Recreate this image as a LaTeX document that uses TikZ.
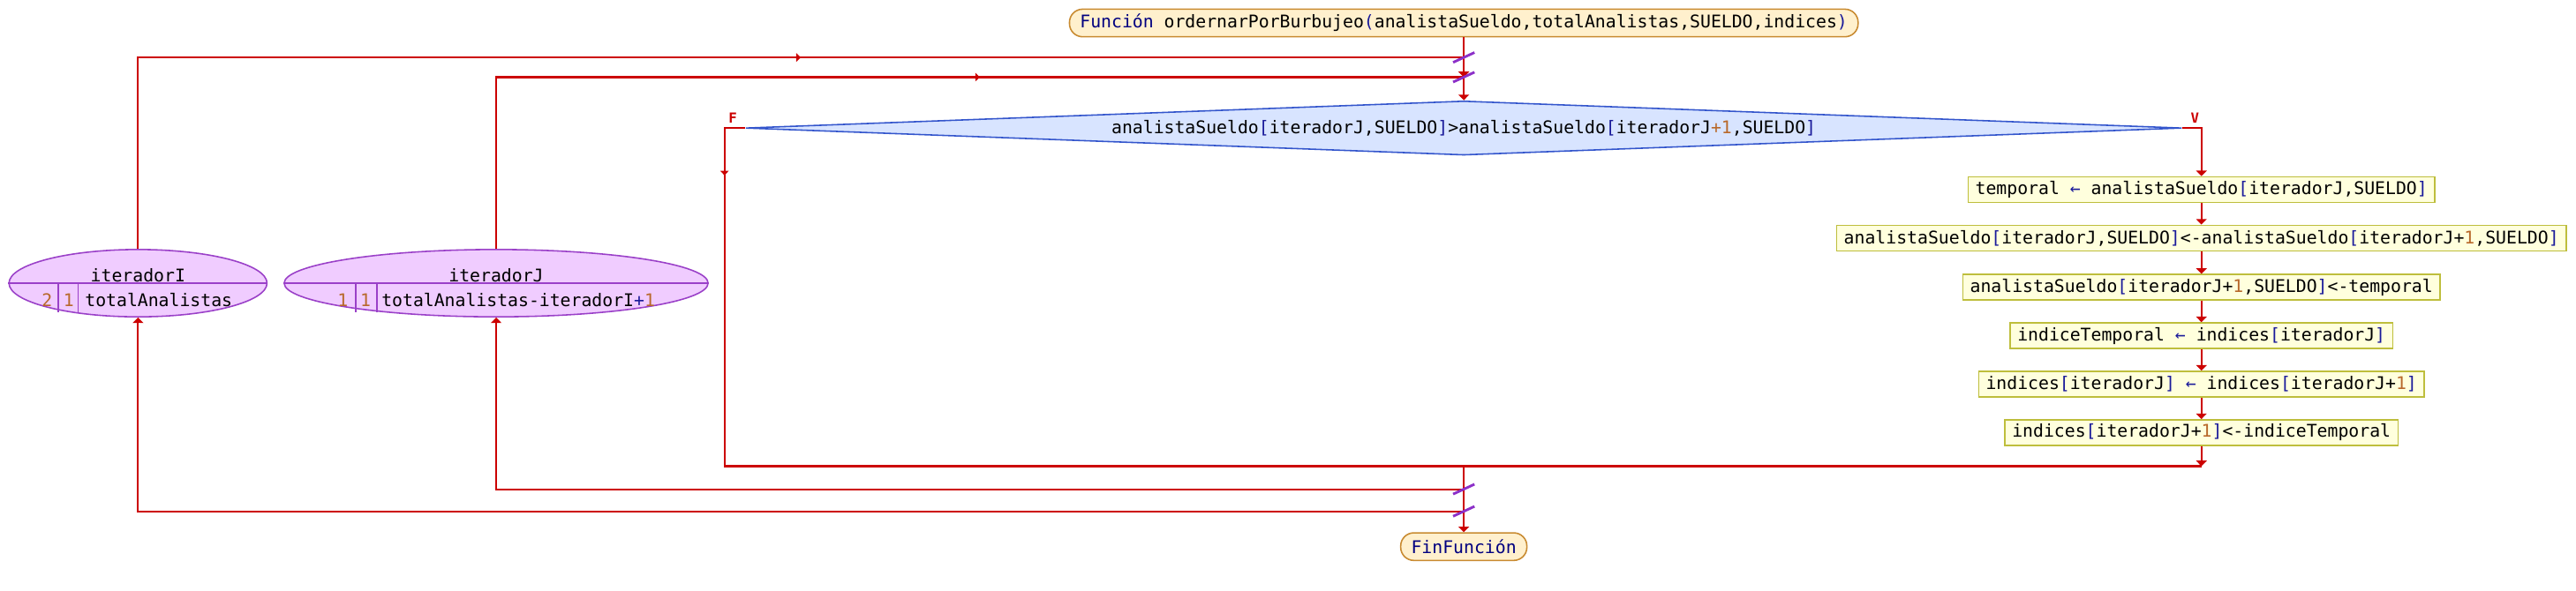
\documentclass[tikz,border=0pt]{standalone}
\usepackage{fontspec}
\setmonofont{DejaVu Sans Mono}
\definecolor{psRed}{RGB}{204, 0, 0}
\definecolor{psSlash}{RGB}{140, 48, 200}
\definecolor{psTerm}{RGB}{255, 240, 205}
\definecolor{psTermDraw}{RGB}{200, 138, 48}
\definecolor{psAssign}{RGB}{255, 255, 221}
\definecolor{psAssignDraw}{RGB}{190, 190, 60}
\definecolor{psCond}{RGB}{216, 228, 255}
\definecolor{psCondDraw}{RGB}{51, 85, 204}
\definecolor{psLoop}{RGB}{240, 204, 255}
\definecolor{psLoopDraw}{RGB}{154, 64, 200}
\definecolor{psKey}{RGB}{0, 0, 128}
\definecolor{psNum}{RGB}{184, 104, 42}
\definecolor{psOp}{RGB}{26, 26, 154}
\usetikzlibrary{shapes.geometric, arrows.meta, decorations.markings}
\newcommand{\psfont}{\ttfamily\fontsize{7.56}{9}\selectfont}
\newcommand{\kw}[1]{\textcolor{psKey}{#1}}
\newcommand{\nm}[1]{\textcolor{psNum}{#1}}
\newcommand{\op}[1]{\textcolor{psOp}{#1}}
\tikzset{
  terminal/.style={rectangle, rounded corners=0.2cm, draw=psTermDraw, fill=psTerm, line width=0.6pt, inner xsep=0.16cm, inner ysep=0pt, minimum height=0.42cm, font=\psfont},
  assign/.style={rectangle, draw=psAssignDraw, fill=psAssign, line width=0.6pt, inner xsep=0.11cm, inner ysep=0pt, minimum height=0.39cm, font=\psfont},
  decision/.style={diamond, aspect=26, draw=psCondDraw, fill=psCond, line width=0.6pt, inner sep=0pt, minimum width=21.85cm, minimum height=0.825cm, font=\psfont},
  loopnode/.style={ellipse, draw=psLoopDraw, fill=psLoop, line width=0.6pt, inner sep=0pt, minimum height=1.025cm},
  looptext/.style={inner sep=0pt, font=\psfont},
  loopline/.style={psLoopDraw, line width=0.5pt},
  branch/.style={inner sep=0pt, text=psRed, font=\ttfamily\bfseries\fontsize{6}{7}\selectfont},
  flowline/.style={psRed, line width=0.8pt},
  flow/.style={flowline, -{Triangle[length=2.4pt, width=4.6pt]}},
  midtip/.style={psRed, line width=0.8pt, postaction={decorate}, decoration={markings, mark=at position #1 with {\arrow{Triangle[length=2pt, width=3.6pt]}}}},
  midtip/.default=0.5,
  slash/.style={psSlash, line width=1.1pt},
}
\begin{document}
\begin{tikzpicture}[x=0.025cm, y=-0.025cm]
  \useasboundingbox (0,0) rectangle (1568,360);

  % Start and end
  \node[terminal] (start) at (891,14) {\kw{Función} ordernarPorBurbujeo\op{(}analistaSueldo,totalAnalistas,SUELDO,indices\op{)}};
  \node[terminal] (stop) at (891,333) {\kw{FinFunción}};

  % Junctions on the main line
  \coordinate (jI) at (891,35);
  \coordinate (jJ) at (891,47);
  \coordinate (kJ) at (891,298);
  \coordinate (kI) at (891,311.5);

  % Condition
  \node[decision] (cond) at (891,78) {analistaSueldo\op{[}iteradorJ,SUELDO\op{]}>analistaSueldo\op{[}iteradorJ\nm{+1},SUELDO\op{]}};
  \coordinate (fL) at (441,78);
  \coordinate (fB) at (441,284);
  \coordinate (vR) at (1340,78);
  \node[branch] (lblF) at (446,72) {F};
  \node[branch] (lblV) at (1336,72) {V};

  % Swap
  \node[assign] (a1) at (1340,115.5) {temporal \op{←} analistaSueldo\op{[}iteradorJ,SUELDO\op{]}};
  \node[assign] (a2) at (1340,145) {analistaSueldo\op{[}iteradorJ,SUELDO\op{]}<-analistaSueldo\op{[}iteradorJ+\nm{1},SUELDO\op{]}};
  \node[assign] (a3) at (1340,175) {analistaSueldo\op{[}iteradorJ+\nm{1},SUELDO\op{]}<-temporal};
  \node[assign] (a4) at (1340,204.5) {indiceTemporal \op{←} indices\op{[}iteradorJ\op{]}};
  \node[assign] (a5) at (1340,234) {indices\op{[}iteradorJ\op{]} \op{←} indices\op{[}iteradorJ+\nm{1}\op{]}};
  \node[assign] (a6) at (1340,263.5) {indices\op{[}iteradorJ+\nm{1}\op{]}<-indiceTemporal};
  \coordinate (mR) at (1340,284);

  % Loops
  \node[loopnode, minimum width=3.925cm] (loopI) at (84,172.5) {};
  \node[looptext] (varI) at (84,167.5) {iteradorI};
  \node[looptext, text=psNum] (iniI) at (28.6,183) {2};
  \node[looptext, text=psNum] (pasoI) at (41.8,183) {1};
  \node[looptext, anchor=west] (finI) at (51.5,183) {totalAnalistas};
  \draw[loopline] (loopI.west) -- (loopI.east);
  \draw[loopline] (35.5,172.5) -- (35.5,190) (47.5,172.5) -- (47.5,190);

  \node[loopnode, minimum width=6.45cm] (loopJ) at (302,172.5) {};
  \node[looptext] (varJ) at (302,167.5) {iteradorJ};
  \node[looptext, text=psNum] (iniJ) at (208.7,183) {1};
  \node[looptext, text=psNum] (pasoJ) at (222.5,183) {1};
  \node[looptext, anchor=west] (finJ) at (232,183) {totalAnalistas-iteradorI\op{+}\nm{1}};
  \draw[loopline] (loopJ.west) -- (loopJ.east);
  \draw[loopline] (216.5,172.5) -- (216.5,190) (229.5,172.5) -- (229.5,190);

  % Arrows
  \draw[flow] (start.south) -- (jJ);
  \draw[flow] (jJ) -- (cond.north);
  \draw[flowline] (loopI.north) |- (jI);
  \path[midtip] (loopI.north |- jI) -- (jI);
  \draw[flowline] (loopJ.north) |- (jJ);
  \path[midtip] (loopJ.north |- jJ) -- (jJ);

  \draw[flowline] (cond.west) -- (fL) -- (fB) -- (mR);
  \path[midtip=0.14] (fL) -- (fB);
  \draw[flow] (cond.east) -- (vR) -- (a1.north);
  \draw[flow] (a1) -- (a2);
  \draw[flow] (a2) -- (a3);
  \draw[flow] (a3) -- (a4);
  \draw[flow] (a4) -- (a5);
  \draw[flow] (a5) -- (a6);
  \draw[flow] (a6) -- (mR);

  \draw[flow] (stop.north |- fB) -- (stop.north);
  \draw[flow] (kJ) -| (loopJ.south);
  \draw[flow] (kI) -| (loopI.south);

  % Loop junction marks
  \foreach \j in {jI, jJ, kJ, kI}
    \draw[slash] (\j) +(-6.5,3) -- +(6.5,-3);
\end{tikzpicture}
\end{document}
